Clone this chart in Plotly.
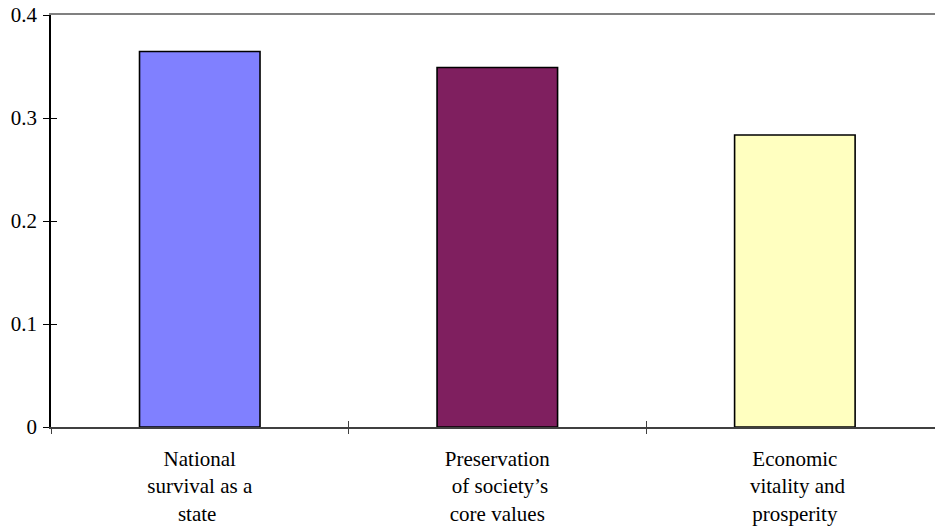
import plotly.graph_objects as go

# Survey categories and their weights
categories = [
    "National<br>survival as a<br>state\u00a0",
    "Preservation<br>\u00a0of society\u2019s<br>core values",
    "Economic<br>\u00a0vitality and<br>prosperity",
]
weights = [0.3645, 0.3490, 0.2835]
bar_colors = ["#8080FF", "#7F1F5F", "#FFFFC0"]
y_ticks = [0, 0.1, 0.2, 0.3, 0.4]

FONT = dict(family="Liberation Serif", size=21, color="black")
X_RANGE = [-0.5, 2.471]
Y_RANGE = [0, 0.4]

fig = go.Figure()
fig.add_trace(go.Bar(
    x=list(range(len(categories))),
    y=weights,
    width=0.405,
    marker=dict(color=bar_colors, line=dict(color="black", width=1.6)),
    hoverinfo="skip",
))

# empty helper traces so the overlay axes (tick crossings, top border) get drawn
for xa, ya in [("x2", "y"), ("x3", "y"), ("x4", "y"), ("x", "y2")]:
    fig.add_trace(go.Scatter(x=[], y=[], xaxis=xa, yaxis=ya, hoverinfo="skip",
                             showlegend=False))

common_overlay = dict(showgrid=False, zeroline=False, showticklabels=False)

fig.update_layout(
    width=935,
    height=531,
    margin=dict(l=51, r=0, t=15, b=104),
    paper_bgcolor="white",
    plot_bgcolor="white",
    showlegend=False,
    font=FONT,
    xaxis=dict(
        range=X_RANGE,
        tickmode="array",
        tickvals=list(range(len(categories))),
        ticktext=categories,
        ticks="",
        showline=True,
        linecolor="#404040",
        linewidth=1.5,
        showgrid=False,
        zeroline=False,
        tickfont=FONT,
        ticklabelstandoff=12,
    ),
    # boundary ticks below the axis line
    xaxis2=dict(
        overlaying="x", anchor="y", range=X_RANGE,
        tickmode="array", tickvals=[-0.5, 0.5, 1.5],
        ticks="outside", ticklen=6, tickwidth=1, tickcolor="#404040",
        showline=False, **common_overlay,
    ),
    # boundary ticks above the axis line
    xaxis3=dict(
        overlaying="x", anchor="y", range=X_RANGE,
        tickmode="array", tickvals=[0.5, 1.5],
        ticks="inside", ticklen=6, tickwidth=1, tickcolor="#404040",
        showline=False, **common_overlay,
    ),
    # grey border along the top of the plot area
    xaxis4=dict(
        overlaying="x", anchor="y", side="top", range=X_RANGE,
        showline=True, linecolor="#808080", linewidth=2, ticks="",
        **common_overlay,
    ),
    yaxis=dict(
        range=Y_RANGE,
        tickmode="array",
        tickvals=y_ticks,
        ticktext=[f"{v:g}" for v in y_ticks],
        ticks="outside",
        ticklen=6,
        tickwidth=1.2,
        tickcolor="black",
        showline=True,
        linecolor="black",
        linewidth=1.5,
        showgrid=False,
        zeroline=False,
        tickfont=FONT,
        ticklabelstandoff=2,
    ),
    yaxis2=dict(
        overlaying="y", anchor="x", side="left", range=Y_RANGE,
        tickmode="array", tickvals=y_ticks,
        ticks="inside", ticklen=6, tickwidth=1.2, tickcolor="black",
        showline=False, **common_overlay,
    ),
)

fig.write_html("out.html")
